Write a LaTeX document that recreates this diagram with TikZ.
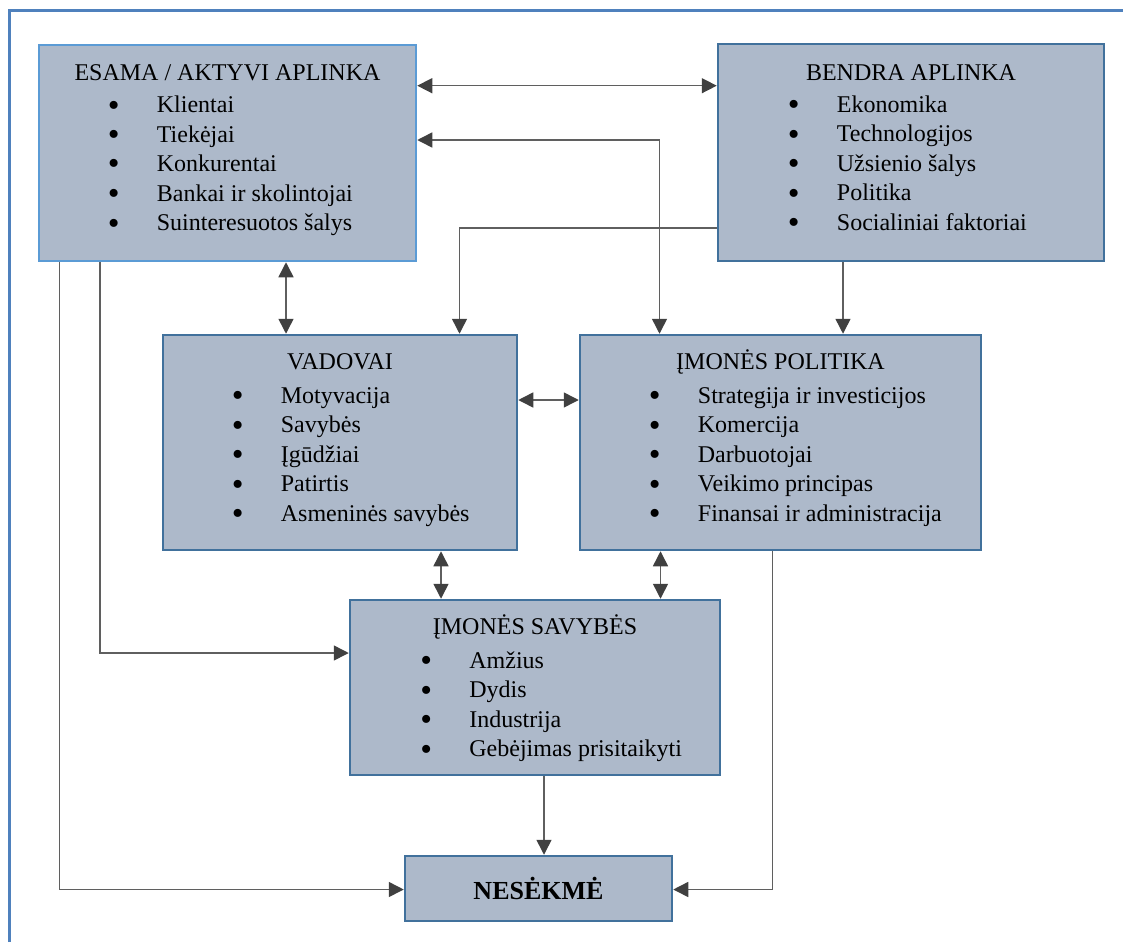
\documentclass[tikz,border=0pt]{standalone}
\usepackage{fontspec}
\setmainfont{Liberation Serif}
\usetikzlibrary{arrows.meta,calc}
\definecolor{boxfill}{HTML}{ADB9CA}
\definecolor{edgelight}{HTML}{5B9BD5}
\definecolor{edgedark}{HTML}{41719C}
\definecolor{wire}{HTML}{5F5F5F}
\definecolor{tipc}{HTML}{404040}
\definecolor{framec}{HTML}{4F81BD}
% enlarged bullet centred on the start point, item text 43.2pt to the right
\newcommand\bdot{\smash{\raisebox{-3.5pt}{\scalebox{1.4}{\textbullet}}}}
\newcommand\bitem[1]{\makebox[0pt][c]{\bdot}\hspace{43.2pt}#1}
\newcommand\blist[1]{\begin{tabular}[t]{@{}l@{}}#1\end{tabular}}
\begin{document}
\begin{tikzpicture}[x=1pt,y=-1pt,
  >={Triangle[length=15pt,width=15pt,color=tipc]},
  box/.style={draw=edgedark, fill=boxfill, line width=2.5pt, inner sep=0pt},
  title/.style={font=\fontsize{24}{29.5}\selectfont, inner sep=0pt, anchor=base},
  lst/.style={font=\fontsize{24}{29.5}\selectfont, inner sep=0pt, anchor=base west},
  conn/.style={draw=wire, line width=1.5pt}]
\useasboundingbox (0,0) rectangle (1123,942);

% page frame (top and left edges)
\draw[draw=framec, line width=3pt] (9.5,942) -- (9.5,11) -- (1123,11);

% boxes
\node[box, draw=edgelight, minimum width=377pt, minimum height=216pt] (esama) at (227.5,153) {};
\node[box, minimum width=386pt, minimum height=217pt] (bendra) at (911,152.5) {};
\node[box, minimum width=354pt, minimum height=215pt] (vadovai) at (340,442.5) {};
\node[box, minimum width=401pt, minimum height=215pt] (politika) at (780.5,442.5) {};
\node[box, minimum width=370pt, minimum height=175pt] (savybes) at (535,687.5) {};
\node[box, minimum width=267pt, minimum height=65pt, font=\bfseries\fontsize{26}{30}\selectfont] (nesekme) at (538.5,888.5) {NESĖKMĖ};

% titles
\node[title] (esamaT) at (227.5,81) {ESAMA / AKTYVI APLINKA};
\node[title] (bendraT) at (911,80.5) {BENDRA APLINKA};
\node[title] (vadovaiT) at (340,369) {VADOVAI};
\node[title] (politikaT) at (780.5,369) {ĮMONĖS POLITIKA};
\node[title] (savybesT) at (535,634) {ĮMONĖS SAVYBĖS};

% bullet lists
\node[lst] (esamaL) at (113.5,112.5) {\blist{\bitem{Klientai}\\ \bitem{Tiekėjai}\\ \bitem{Konkurentai}\\ \bitem{Bankai ir skolintojai}\\ \bitem{Suinteresuotos šalys}}};
\node[lst] (bendraL) at (793.5,112) {\blist{\bitem{Ekonomika}\\ \bitem{Technologijos}\\ \bitem{Užsienio šalys}\\ \bitem{Politika}\\ \bitem{Socialiniai faktoriai}}};
\node[lst] (vadovaiL) at (237.5,403) {\blist{\bitem{Motyvacija}\\ \bitem{Savybės}\\ \bitem{Įgūdžiai}\\ \bitem{Patirtis}\\ \bitem{Asmeninės savybės}}};
\node[lst] (politikaL) at (654.5,403) {\blist{\bitem{Strategija ir investicijos}\\ \bitem{Komercija}\\ \bitem{Darbuotojai}\\ \bitem{Veikimo principas}\\ \bitem{Finansai ir administracija}}};
\node[lst] (savybesL) at (426,668) {\blist{\bitem{Amžius}\\ \bitem{Dydis}\\ \bitem{Industrija}\\ \bitem{Gebėjimas prisitaikyti}}};

% routing points
\coordinate (yA) at (0,85.7);
\coordinate (kB) at (659.5,140);
\coordinate (kC) at (459.5,228);
\coordinate (xD) at (843,0);
\coordinate (xE) at (286,0);
\coordinate (yF) at (0,400);
\coordinate (xG) at (441,0);
\coordinate (xH) at (660.5,0);
\coordinate (kI) at (100,653);
\coordinate (kJ) at (59.5,889.5);
\coordinate (xK) at (544,0);
\coordinate (kL) at (772.5,889.5);

% connectors
\draw[conn,<->] (esama.east |- yA) -- (bendra.west |- yA);
\draw[conn,<->] (esama.east |- kB) -- (kB) -- (politika.north -| kB);
\draw[conn,->] (bendra.west |- kC) -- (kC) -- (vadovai.north -| kC);
\draw[conn,->] (bendra.south -| xD) -- (politika.north -| xD);
\draw[conn,<->] (esama.south -| xE) -- (vadovai.north -| xE);
\draw[conn,<->] (vadovai.east |- yF) -- (politika.west |- yF);
\draw[conn,<->] (vadovai.south -| xG) -- (savybes.north -| xG);
\draw[conn,<->] (politika.south -| xH) -- (savybes.north -| xH);
\draw[conn,->] (esama.south -| kI) -- (kI) -- (savybes.west |- kI);
\draw[conn,->] (esama.south -| kJ) -- (kJ) -- (nesekme.west |- kJ);
\draw[conn,->] (savybes.south -| xK) -- (nesekme.north -| xK);
\draw[conn,->] (politika.south -| kL) -- (kL) -- (nesekme.east |- kL);
\end{tikzpicture}
\end{document}
